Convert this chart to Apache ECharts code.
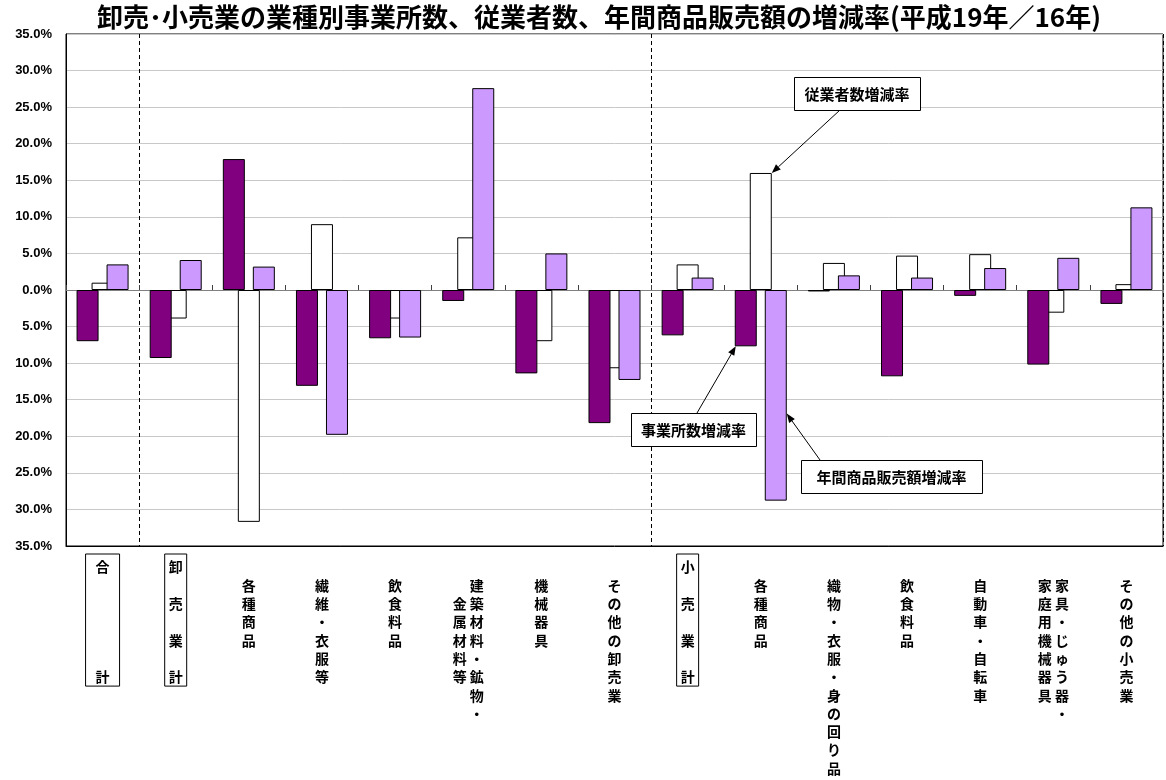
<!DOCTYPE html>
<html><head><meta charset="utf-8">
<script src="https://cdn.jsdelivr.net/npm/echarts@6/dist/echarts.min.js"></script>
<style>html,body{margin:0;padding:0;background:#fff}#c{width:1166px;height:780px}</style>
</head><body><div id="c"></div>
<script>
// ---- data ----
const titleText = '卸売･小売業の業種別事業所数、従業者数、年間商品販売額の増減率(平成19年／16年)';
// multi-column vertical labels: columns listed right-to-left, separated by \n
const categories = ['合計','卸売業計','各種商品','繊維・衣服等','飲食料品','建築材料・鉱物・\n　金属材料等','機械器具','その他の卸売業','小売業計','各種商品','織物・衣服・身の回り品','飲食料品','自動車・自転車','家具・じゅう器・\n家庭用機械器具','その他の小売業'];
const boxedCategories = ['合計','卸売業計','小売業計'];
const seriesNames = ['事業所数増減率','従業者数増減率','年間商品販売額増減率'];
const establishments = [-7.0, -9.3, 17.9, -13.1, -6.6, -1.5, -11.4, -18.2, -6.2, -7.7, -0.2, -11.8, -0.8, -10.2, -1.9];
const employees      = [1.0, -3.9, -31.7, 9.0, -3.9, 7.2, -7.0, -10.7, 3.5, 16.0, 3.7, 4.7, 4.9, -3.1, 0.8];
const sales          = [3.5, 4.1, 3.2, -19.8, -6.5, 27.6, 5.0, -12.3, 1.7, -28.8, 2.0, 1.7, 3.0, 4.4, 11.3];
const sectionBreaks = [1, 8]; // dashed separators before these category indexes
const yMin = -35, yMax = 35, yStep = 5;

// ---- styles ----
const colors = ['#800080', '#FFFFFF', '#CC99FF'];
const BAR_W = 22, BAR_OVERLAP = 7;
const CJK = '"Noto Sans CJK JP", "Noto Sans", sans-serif';

function verticalLabel(name) {
  if (boxedCategories.indexOf(name) >= 0) {
    const chars = Array.from(name);
    const rows = new Array(7).fill('　');
    if (chars.length === 2) { rows[0] = chars[0]; rows[6] = chars[1]; }
    else chars.forEach((c, i) => { rows[i * 2] = c; });
    return rows.join('\n');
  }
  const cols = name.split('\n').map(c => Array.from(c)).reverse(); // left-to-right
  const n = Math.max.apply(null, cols.map(c => c.length));
  const rows = [''];
  for (let i = 0; i < n; i++) rows.push(cols.map(c => c[i] || '　').join(' '));
  return rows.join('\n');
}

const chart = echarts.init(document.getElementById('c'), null, {renderer: 'canvas'});
const catData = categories.map(name => {
  const item = {value: name};
  if (boxedCategories.indexOf(name) >= 0) {
    item.textStyle = {borderColor: '#000', borderWidth: 1,
      padding: name.length === 2 ? [4, 10, 0, 10] : [4, 4, 0, 4]};
  }
  return item;
});

const option = {
  backgroundColor: '#fff',
  animation: false,
  title: {
    text: titleText, left: 97, top: 4, padding: 0,
    textStyle: {fontFamily: CJK, fontSize: 26, fontWeight: 'bold', color: '#000'}
  },
  grid: {left: 66, top: 34, width: 1097, height: 512, show: true, borderColor: '#000', borderWidth: 1, backgroundColor: 'transparent'},
  xAxis: [
    {
      type: 'category', data: catData, position: 'bottom',
      axisLine: {onZero: false, lineStyle: {color: '#000'}},
      axisTick: {show: false}, splitLine: {show: false},
      axisLabel: {
        interval: 0, margin: 8, color: '#000', fontFamily: CJK, fontSize: 14, fontWeight: 'bold',
        lineHeight: 18.3, padding: [4, 0, 0, 0], verticalAlign: 'top',
        formatter: verticalLabel
      }
    },
    {
      type: 'category', data: categories, position: 'bottom',
      axisLine: {onZero: true, onZeroAxisIndex: 0, lineStyle: {color: '#808080', width: 1}},
      axisTick: {show: true, inside: true, length: 5, interval: 0, lineStyle: {color: '#404040'}},
      axisLabel: {show: false},
      splitLine: {show: true, interval: (idx) => sectionBreaks.indexOf(idx) >= 0,
        lineStyle: {color: '#000', type: [4, 3], width: 1}}
    }
  ],
  yAxis: {
    type: 'value', min: yMin, max: yMax, interval: yStep,
    axisLine: {show: true, lineStyle: {color: '#000'}},
    axisTick: {show: false},
    splitLine: {show: true, lineStyle: {color: '#C8C8C8', width: 1}},
    axisLabel: {
      margin: 14, color: '#000', fontFamily: '"Liberation Sans", Arial, sans-serif', fontSize: 13, fontWeight: 'bold',
      formatter: v => Math.abs(v).toFixed(1) + '%'
    }
  },
  series: [establishments, employees, sales].map((d, i) => ({
    name: seriesNames[i], type: 'bar', data: d, xAxisIndex: 0, yAxisIndex: 0,
    barWidth: BAR_W, barGap: (-BAR_OVERLAP / BAR_W * 100).toFixed(1) + '%',
    z: i === 1 ? 1 : 2,
    itemStyle: {color: colors[i], borderColor: '#000', borderWidth: 1}
  }))
};
chart.setOption(option);

// ---- annotations (callouts with arrows), tips anchored to bars via the chart's scales ----
const callouts = [
  {text: '従業者数増減率', series: 1, cat: 9, value: employees[9], edge: 'right', box: [794, 77, 126, 33], from: [840, 110]},
  {text: '事業所数増減率', series: 0, cat: 9, value: establishments[9], edge: 'left', box: [631, 413, 125, 33], from: [697, 413]},
  {text: '年間商品販売額増減率', series: 2, cat: 9, value: -16.9, edge: 'right', box: [801, 460, 181, 33], from: [820, 460]}
];
const step = BAR_W - BAR_OVERLAP;
const graphics = [];
callouts.forEach(c => {
  const p = chart.convertToPixel({seriesIndex: 0}, [c.cat, c.value]);
  const cx = p[0] + (c.series - 1) * step;
  const tx = cx + (c.edge === 'right' ? BAR_W / 2 : -BAR_W / 2 + 1);
  const ty = p[1];
  const fx = c.from[0], fy = c.from[1];
  const ang = Math.atan2(ty - fy, tx - fx);
  const L = 9, W = 3.5;
  const bx = tx - L * Math.cos(ang), by = ty - L * Math.sin(ang);
  graphics.push({type: 'line', z: 50, shape: {x1: fx, y1: fy, x2: bx, y2: by}, style: {stroke: '#000', lineWidth: 1}});
  graphics.push({type: 'polygon', z: 50, shape: {points: [[tx, ty],
    [bx + W * Math.sin(ang), by - W * Math.cos(ang)], [bx - W * Math.sin(ang), by + W * Math.cos(ang)]]},
    style: {fill: '#000'}});
  const [x, y, w, h] = c.box;
  graphics.push({type: 'rect', z: 51, shape: {x: x + 0.5, y: y + 0.5, width: w, height: h}, style: {fill: '#fff', stroke: '#000', lineWidth: 1}});
  graphics.push({type: 'text', z: 52, style: {x: x + w / 2, y: y + h / 2 + 1, text: c.text, align: 'center', verticalAlign: 'middle',
    font: 'bold 15px ' + CJK, fill: '#000'}});
});
chart.setOption({graphic: graphics});
</script>
</body></html>
